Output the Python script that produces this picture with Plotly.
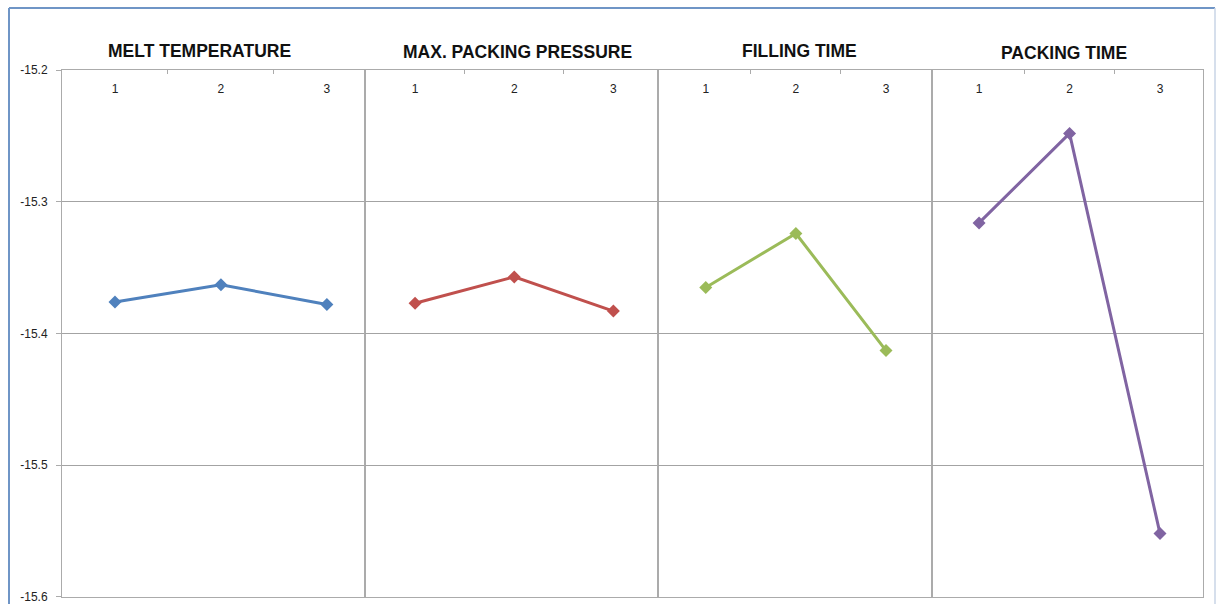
import plotly.graph_objects as go

# Factor levels shared by every panel
levels = [1, 2, 3]
level_labels = ["1", "2", "3"]

# Mean response per level for each factor
melt_temperature = [-15.376, -15.363, -15.378]
max_packing_pressure = [-15.377, -15.357, -15.383]
filling_time = [-15.365, -15.324, -15.413]
packing_time = [-15.316, -15.248, -15.552]

factor_names = ["MELT TEMPERATURE", "MAX. PACKING PRESSURE", "FILLING TIME", "PACKING TIME"]
series = [melt_temperature, max_packing_pressure, filling_time, packing_time]
colors = ["#4F81BD", "#C0504D", "#9BBB59", "#8064A2"]

y_ticks = [-15.2, -15.3, -15.4, -15.5, -15.6]
y_tick_labels = ["-15.2", "-15.3", "-15.4", "-15.5", "-15.6"]

W, H = 1220, 604
# panel edges (px) and x ranges that place the three levels inside each panel
panel_px = [(62, 365), (365, 658), (658, 932), (932, 1203)]
x_ranges = [(0.5, 3.36), (0.495, 3.45), (0.47, 3.51), (0.48, 3.475)]
title_px = [(200, 51), (517, 52), (799, 51), (1064, 53)]
plot_top, plot_bottom = 70, 597
level_label_base = 95  # px line that the level labels sit on
y_range = [-15.6002, -15.1998]

grid_col = "#a3a3a3"
line_col = "#ababab"
font_family = "Liberation Sans, Arial, sans-serif"

fig = go.Figure()
layout = dict(
    template="none",
    width=W, height=H,
    margin=dict(l=0, r=0, t=0, b=0, pad=0),
    paper_bgcolor="white", plot_bgcolor="white",
    showlegend=False,
    font=dict(family=font_family, color="#222222"),
)

y_domain = [1 - plot_bottom / H, 1 - plot_top / H]
annotations = []
for i, (name, vals, col) in enumerate(zip(factor_names, series, colors)):
    k = "" if i == 0 else str(i + 1)
    fig.add_trace(go.Scatter(
        x=levels, y=vals, mode="lines+markers",
        line=dict(color=col, width=3),
        marker=dict(symbol="diamond", size=10, color=col),
        xaxis="x" + k, yaxis="y" + k, name=name,
    ))
    x0, x1 = panel_px[i]
    # top frame line with short separators between the levels
    layout["xaxis" + k] = dict(
        domain=[x0 / W, x1 / W], range=list(x_ranges[i]),
        anchor="y" + k, side="top", automargin=False,
        tickmode="array", tickvals=[1.5, 2.5], showticklabels=False,
        ticks="inside", ticklen=4, tickcolor=line_col, tickwidth=1,
        showgrid=False, zeroline=False,
        showline=True, linecolor=line_col, linewidth=1, mirror=True,
        fixedrange=True,
    )
    # level labels just under the top frame line
    lk = str(i + 5)
    layout["xaxis" + lk] = dict(
        overlaying="x" + k, anchor="free", position=1 - level_label_base / H,
        side="top", range=list(x_ranges[i]), automargin=False,
        tickmode="array", tickvals=levels, ticktext=level_labels,
        ticks="", ticklabelstandoff=0,
        tickfont=dict(size=12, color="#222222"),
        showgrid=False, zeroline=False, showline=False, fixedrange=True,
    )
    fig.add_trace(go.Scatter(x=levels, y=vals, xaxis="x" + lk, yaxis="y" + k,
                             mode="markers", marker=dict(opacity=0),
                             hoverinfo="skip", showlegend=False))
    layout["yaxis" + k] = dict(
        domain=y_domain, range=y_range,
        anchor="x" + k, automargin=False,
        tickmode="array", tickvals=y_ticks, ticktext=y_tick_labels,
        showticklabels=(i == 0), ticks="outside" if i == 0 else "",
        ticklen=5, tickcolor=line_col, ticklabelstandoff=6,
        tickfont=dict(size=12, color="#222222"),
        showgrid=True, gridcolor=grid_col, gridwidth=1, zeroline=False,
        showline=True, linecolor=line_col, linewidth=1, mirror=True,
        fixedrange=True,
    )
    tx, ty = title_px[i]
    annotations.append(dict(
        text="<b>" + name + "</b>", x=tx / W, y=1 - ty / H,
        xref="paper", yref="paper", xanchor="center", yanchor="middle",
        showarrow=False, font=dict(size=17.5, color="#111111", family=font_family),
    ))

layout["annotations"] = annotations
# outer chart border
layout["shapes"] = [
    dict(type="line", xref="paper", yref="paper", x0=9 / W, x1=1215 / W,
         y0=1 - 8 / H, y1=1 - 8 / H, line=dict(color="#6f95c6", width=2)),
    dict(type="line", xref="paper", yref="paper", x0=9 / W, x1=9 / W,
         y0=0, y1=1 - 8 / H, line=dict(color="#6f95c6", width=2)),
    dict(type="line", xref="paper", yref="paper", x0=1215 / W, x1=1215 / W,
         y0=0, y1=1 - 8 / H, line=dict(color="#c9d5e6", width=1.5)),
]
fig.update_layout(**layout)
fig.write_html("out.html")
